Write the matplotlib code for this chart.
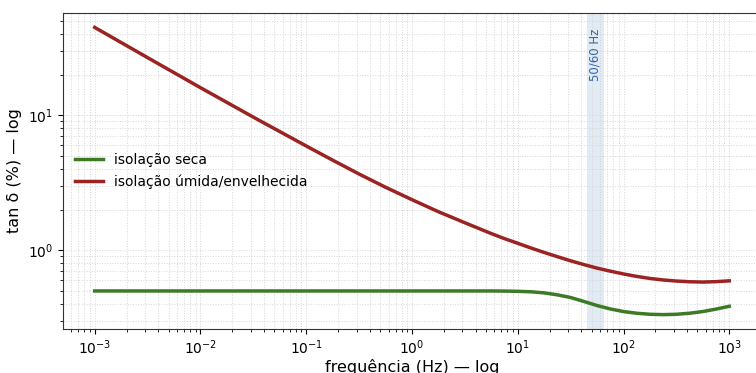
import numpy as np
import matplotlib
matplotlib.use("Agg")
import matplotlib.pyplot as plt

# frequency points (log10 Hz)
logf = [-3.0, -2.5, -2.0, -1.5, -1.0, -0.75, -0.5, -0.25, 0.0, 0.25, 0.5, 0.75,
        0.875, 1.0, 1.125, 1.25, 1.375, 1.5, 1.625, 1.75, 1.875, 2.0, 2.125,
        2.25, 2.375, 2.5, 2.625, 2.75, 2.875, 3.0]
# tan delta (%)
dry = [0.5, 0.5, 0.5, 0.5, 0.5, 0.5, 0.5, 0.5, 0.5, 0.5, 0.5, 0.5,
       0.499, 0.497, 0.493, 0.484, 0.468, 0.447, 0.418, 0.39, 0.368, 0.352, 0.342,
       0.336, 0.334, 0.336, 0.342, 0.352, 0.367, 0.385]
wet = [44.7, 26.7, 16.0, 9.68, 5.92, 4.65, 3.67, 2.93, 2.37, 1.93, 1.60, 1.33,
       1.22, 1.127, 1.04, 0.964, 0.897, 0.836, 0.784, 0.738, 0.701, 0.668, 0.641,
       0.619, 0.603, 0.592, 0.585, 0.582, 0.586, 0.594]
labels = ["isolação seca", "isolação úmida/envelhecida"]
band = (45, 65)
band_label = "50/60 Hz"

freq = 10.0 ** np.array(logf)

fig = plt.figure(figsize=(7.56, 3.73), dpi=100)
ax = fig.add_axes([0.0833, 0.118, 0.9233, 0.847])

ax.plot(freq, dry, color="#3c7a26", lw=2.5, label=labels[0], solid_joinstyle="round")
ax.plot(freq, wet, color="#9b2423", lw=2.5, label=labels[1], solid_joinstyle="round")
ax.set_xscale("log")
ax.set_yscale("log")
ax.axvspan(band[0], band[1], color="#cfdcee", alpha=0.6, lw=0)
ax.text(np.sqrt(band[0] * band[1]), 0.95, band_label, rotation=90, ha="center", va="top",
        transform=ax.get_xaxis_transform(), color="#3566a6", fontsize=8.5)

ax.grid(True, which="both", ls=":", lw=0.7, color="#d6d6d6")
ax.set_xlabel("frequência (Hz) — log", fontsize=11.5, labelpad=1)
ax.set_ylabel("tan δ (%) — log", fontsize=11.5)
ax.tick_params(labelsize=10)
for s in ax.spines.values():
    s.set_color("#333333")
ax.legend(loc="center left", frameon=False, fontsize=10, bbox_to_anchor=(0.0, 0.5))

fig.savefig("out.png", dpi=100)
